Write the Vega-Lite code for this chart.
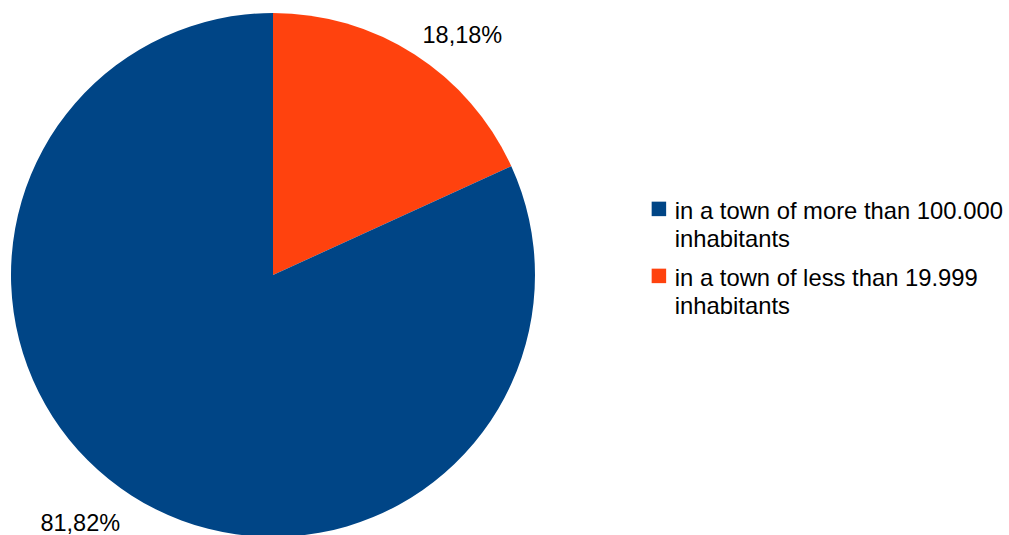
{
  "$schema": "https://vega.github.io/schema/vega-lite/v6.json",
  "width": 524,
  "height": 524,
  "padding": {"left": 11, "top": 13, "right": 0, "bottom": 0},
  "background": "white",
  "config": {
    "view": {"stroke": null},
    "font": "Liberation Sans",
    "style": {"guide-label": {"lineHeight": 28.5, "dy": -9}}
  },
  "data": {
    "values": [
      {"category": "in a town of less than 19.999 inhabitants", "share": 18.18, "label": "18,18%"},
      {"category": "in a town of more than 100.000 inhabitants", "share": 81.82, "label": "81,82%"}
    ]
  },
  "encoding": {
    "theta": {"field": "share", "type": "quantitative", "stack": true},
    "order": {"field": "share", "type": "quantitative", "sort": "ascending"}
  },
  "layer": [
    {
      "mark": {"type": "arc", "stroke": null},
      "encoding": {
        "color": {
          "field": "category",
          "type": "nominal",
          "scale": {
            "domain": ["in a town of more than 100.000 inhabitants", "in a town of less than 19.999 inhabitants"],
            "range": ["#004586", "#ff420e"]
          },
          "legend": {
            "orient": "none",
            "legendX": 636,
            "legendY": 184,
            "title": null,
            "symbolType": "square",
            "symbolSize": 210,
            "symbolStrokeWidth": 0,
            "symbolOpacity": 1,
            "labelFontSize": 23.8,
            "labelFont": "Liberation Sans",
            "labelColor": "black",
            "labelLimit": 400,
            "labelOffset": 4,
            "rowPadding": 11,
            "labelBaseline": "top",
            "labelExpr": "datum.label == 'in a town of more than 100.000 inhabitants' ? ['in a town of more than 100.000', 'inhabitants'] : ['in a town of less than 19.999', 'inhabitants']"
          }
        }
      }
    },
    {
      "mark": {
        "type": "text",
        "radius": {"expr": "datum.share < 50 ? 284 : 292"},
        "dx": {"expr": "datum.share < 50 ? -4 : 5"},
        "dy": {"expr": "datum.share < 50 ? 0 : 3"},
        "fontSize": 23.5,
        "font": "Liberation Sans",
        "color": "black",
        "baseline": "middle",
        "align": {"expr": "datum.share < 50 ? 'left' : 'right'"}
      },
      "encoding": {
        "text": {"field": "label", "type": "nominal"}
      }
    }
  ]
}
